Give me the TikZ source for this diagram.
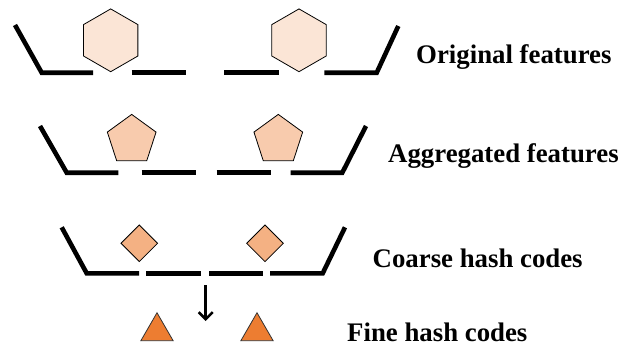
\documentclass[tikz,border=0pt]{standalone}
\usepackage{fontspec}
\setmainfont{Liberation Serif}
\usetikzlibrary{shapes.geometric,arrows.meta}
\definecolor{hexfill}{HTML}{FBE5D6}
\definecolor{pentfill}{HTML}{F8CBAD}
\definecolor{diafill}{HTML}{F4B183}
\definecolor{trifill}{HTML}{ED7D31}
\tikzset{
  bar/.style={line width=4.6pt, line join=miter, line cap=butt},
  hexa/.style={regular polygon, regular polygon sides=6, shape border rotate=30, draw=black, line width=0.8pt, fill=hexfill, inner sep=0pt, outer sep=0pt, minimum size=62.8pt},
  penta/.style={regular polygon, regular polygon sides=5, draw=black, line width=0.8pt, fill=pentfill, inner sep=0pt, outer sep=0pt, minimum size=51.2pt},
  dia/.style={regular polygon, regular polygon sides=4, shape border rotate=45, draw=black, line width=0.8pt, fill=diafill, inner sep=0pt, outer sep=0pt, minimum size=36.6pt},
  tri/.style={regular polygon, regular polygon sides=3, draw=black!80, line width=0.8pt, fill=trifill, inner sep=0pt, outer sep=0pt, minimum size=37.3pt},
  lab/.style={font=\bfseries\fontsize{26.8}{30}\selectfont, anchor=base west, inner sep=0pt, text depth=0pt}
}
\begin{document}
\begin{tikzpicture}[x=1pt,y=-1pt]
\useasboundingbox (0,0) rectangle (629,348);
% Row 1
\draw[bar] (15,25) -- (41.7,72.7) -- (93,72.7);
\draw[bar] (131.7,72.7) -- (185.7,72.7);
\draw[bar] (224.3,72.7) -- (279,72.7);
\draw[bar] (324.3,72.7) -- (376.7,72.7) -- (398.3,26);
\node[hexa] (h1) at (110.7,40.3) {};
\node[hexa] (h2) at (299,40.3) {};
\node[lab] (l1) at (416,63.5) {Original features};
% Row 2
\draw[bar] (40,126) -- (66.7,172.7) -- (118.3,172.7);
\draw[bar] (141.7,172.7) -- (195.7,172.7);
\draw[bar] (216.7,172.7) -- (270.7,172.7);
\draw[bar] (290.7,172.7) -- (342.3,172.7) -- (366,126);
\node[penta] (p1) at (131.7,140) {};
\node[penta] (p2) at (278.3,140) {};
\node[lab] (l2) at (388,162) {Aggregated features};
% Row 3
\draw[bar] (61.7,227.3) -- (86.7,273.3) -- (139,273.3);
\draw[bar] (146,273.3) -- (201,273.3);
\draw[bar] (209,273.3) -- (263.3,273.3);
\draw[bar] (270,273.3) -- (322.7,273.3) -- (345,227.3);
\node[dia] (d1) at (139.3,243.3) {};
\node[dia] (d2) at (265,243.3) {};
\node[lab] (l3) at (372.5,267) {Coarse hash codes};
% Arrow
\coordinate (as) at (205.7,285);
\coordinate (ae) at (205.7,321);
\draw[line width=2.6pt, -{Straight Barb[length=7pt,width=14pt,line width=2.6pt]}] (as) -- (ae);
% Row 4
\node[tri] (t1) at (157,331.4) {};
\node[tri] (t2) at (257,331.4) {};
\node[lab] (l4) at (347,341.5) {Fine hash codes};
\end{tikzpicture}
\end{document}
